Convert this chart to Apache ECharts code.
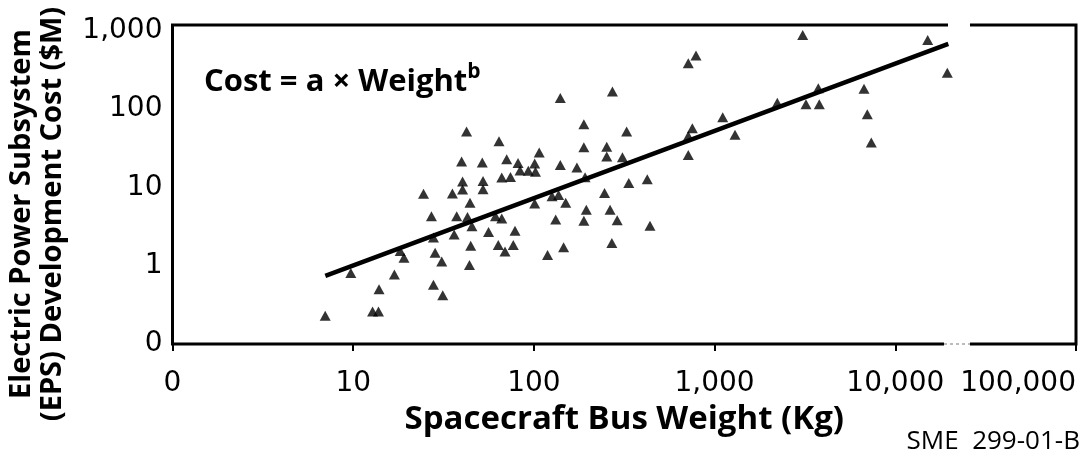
<!DOCTYPE html>
<html>
<head>
<meta charset="utf-8">
<script src="https://cdn.jsdelivr.net/npm/echarts@6/dist/echarts.min.js"></script>
<style>
  html, body { margin: 0; padding: 0; background: #fff; }
  #chart { width: 1087px; height: 467px; }
</style>
</head>
<body>
<div id="chart"></div>
<script>
// Spacecraft bus weight (kg) for each spacecraft in the sample
const busWeightKg = [
  7.0, 9.7, 12.8, 13.8, 13.9, 16.9, 18.2, 19.1, 24.5, 27.1,
  27.8, 27.8, 28.4, 30.9, 31.3, 35.4, 36.2, 37.4, 40.3, 40.3,
  42.9, 44.3, 45.4, 44.7, 44.0, 42.4, 39.8, 51.8, 52.3, 52.3,
  64.1, 70.7, 81.7, 101, 107, 140, 140, 83.8, 93.1, 102,
  66.4, 74.2, 101, 126, 137, 150, 61.3, 66.4, 56.1, 78.6,
  63.5, 69.2, 76.9, 119, 146, 132, 189, 189, 253, 253,
  309, 326, 173, 192, 335, 424, 246, 195, 264, 189,
  289, 439, 270, 272, 715, 789, 753, 715, 715, 1109,
  1297, 2223, 3073, 3204, 3749, 3797, 6711, 6998, 7364, 15110,
  19400
];
// EPS development cost ($M), same order as busWeightKg
const epsCostM = [
  0.23, 0.81, 0.26, 0.26, 0.50, 0.77, 1.54, 1.26, 8.3, 4.3,
  2.3, 0.57, 1.46, 1.13, 0.42, 8.4, 2.5, 4.3, 11.9, 9.4,
  4.2, 6.4, 3.2, 1.8, 1.02, 52, 21.5, 20.8, 12.1, 9.5,
  39, 23, 20.6, 20.3, 28, 139, 19.4, 16.5, 16.3, 15.9,
  13.4, 13.6, 6.25, 7.7, 8.0, 6.4, 4.3, 4.0, 2.7, 2.8,
  1.84, 1.52, 1.84, 1.37, 1.72, 3.9, 64, 32.6, 33.2, 24.8,
  24.3, 52, 18.0, 13.5, 11.4, 12.7, 8.5, 5.2, 5.2, 3.75,
  3.8, 3.25, 1.95, 168, 387, 486, 57, 45.5, 26, 79,
  47, 121, 889, 116, 185, 116, 182, 86, 37.4, 767,
  293
];
// End points of the power-law fit  Cost = a x Weight^b
const fitWeightKg = [7.01, 19650];
const fitCostM = [0.74, 682];

// Axis ticks and their printed labels
const xTickValues = [1, 10, 100, 1000, 10000, 100000];
const xTickLabels = ['0', '10', '100', '1,000', '10,000', '100,000'];
const yTickValues = [0.1, 1, 10, 100, 1000];
const yTickLabels = ['0', '1', '10', '100', '1,000'];
const yAxisTop = 1190;

const xTitle = 'Spacecraft Bus Weight (Kg)';
const yTitle = 'Electric Power Subsystem\n(EPS) Development Cost ($M)';
const figureId = 'SME  299-01-B';

function tickLabel(values, labels) {
  return function (v) {
    for (let i = 0; i < values.length; i++) {
      if (Math.abs(Math.log10(v) - Math.log10(values[i])) < 1e-6) return labels[i];
    }
    return '';
  };
}

const TITLE_FONT = '"Open Sans", "Noto Sans", sans-serif';
const TICK_FONT = '"DejaVu Sans", sans-serif';
const scatterData = busWeightKg.map((w, i) => [w, epsCostM[i]]);
const fitData = fitWeightKg.map((w, i) => [w, fitCostM[i]]);

const chart = echarts.init(document.getElementById('chart'), null, { renderer: 'canvas' });
chart.setOption({
  backgroundColor: '#fff',
  animation: false,
  title: {
    text: '{m|Cost = a \u00d7 Weight}{s|b}',
    left: 199,
    top: 57,
    textStyle: {
      rich: {
        m: { fontFamily: TITLE_FONT, fontSize: 31, fontWeight: 'bold', color: '#000', lineHeight: 40 },
        s: { fontFamily: TITLE_FONT, fontSize: 21, fontWeight: 'bold', color: '#000', lineHeight: 22, verticalAlign: 'top' }
      }
    }
  },
  grid: {
    left: 172.5, right: 11, top: 25, bottom: 123,
    outerBoundsMode: 'none',
    containLabel: false,
    show: true, borderColor: '#000', borderWidth: 3, backgroundColor: 'transparent'
  },
  xAxis: {
    type: 'log', logBase: 10, min: 1, max: 100000,
    name: xTitle,
    nameLocation: 'middle', nameGap: 49,
    nameTextStyle: { fontFamily: TITLE_FONT, fontSize: 33, fontWeight: 'bold', color: '#000' },
    axisLine: { show: false },
    axisTick: { show: true, length: 7, lineStyle: { color: '#000', width: 2 } },
    axisLabel: {
      fontFamily: TICK_FONT, fontSize: 28, color: '#000', margin: 26,
      formatter: tickLabel(xTickValues, xTickLabels),
      alignMaxLabel: 'right'
    },
    splitLine: { show: false }
  },
  yAxis: {
    type: 'log', logBase: 10, min: 0.1, max: yAxisTop,
    axisLine: { show: false },
    axisTick: { show: false },
    axisLabel: {
      fontFamily: TICK_FONT, fontSize: 28, color: '#000', margin: 10,
      showMaxLabel: false,
      formatter: tickLabel(yTickValues, yTickLabels)
    },
    splitLine: { show: false }
  },
  graphic: [
    // vertical axis title, two lines reading upward
    { type: 'text', z: 100, x: 37, y: 214, rotation: Math.PI / 2,
      style: { text: yTitle, font: 'bold 29px "Open Sans", sans-serif', fill: '#000',
               textAlign: 'center', textVerticalAlign: 'middle', lineHeight: 31 } },
    // break in the top edge of the frame
    { type: 'rect', z: 100, shape: { x: 948, y: 20, width: 22, height: 10 }, style: { fill: '#fff' } },
    // faded stretch of the bottom edge
    { type: 'rect', z: 100, shape: { x: 944, y: 340, width: 26, height: 9 }, style: { fill: '#fff' } },
    { type: 'line', z: 101, shape: { x1: 944, y1: 344, x2: 970, y2: 344 },
      style: { stroke: '#bbb', lineWidth: 2, lineDash: [3, 3] } },
    { type: 'text', z: 100, x: 1080, y: 442,
      style: { text: figureId, font: '26px "Open Sans", sans-serif', fill: '#000',
               textAlign: 'right', textVerticalAlign: 'middle' } }
  ],
  series: [
    {
      type: 'scatter',
      data: scatterData,
      symbol: 'triangle',
      symbolSize: [11, 10],
      itemStyle: { color: '#000' },
      z: 3
    },
    {
      type: 'line',
      data: fitData,
      symbol: 'none',
      lineStyle: { color: '#000', width: 4.5 },
      z: 4
    }
  ]
});
</script>
</body>
</html>
